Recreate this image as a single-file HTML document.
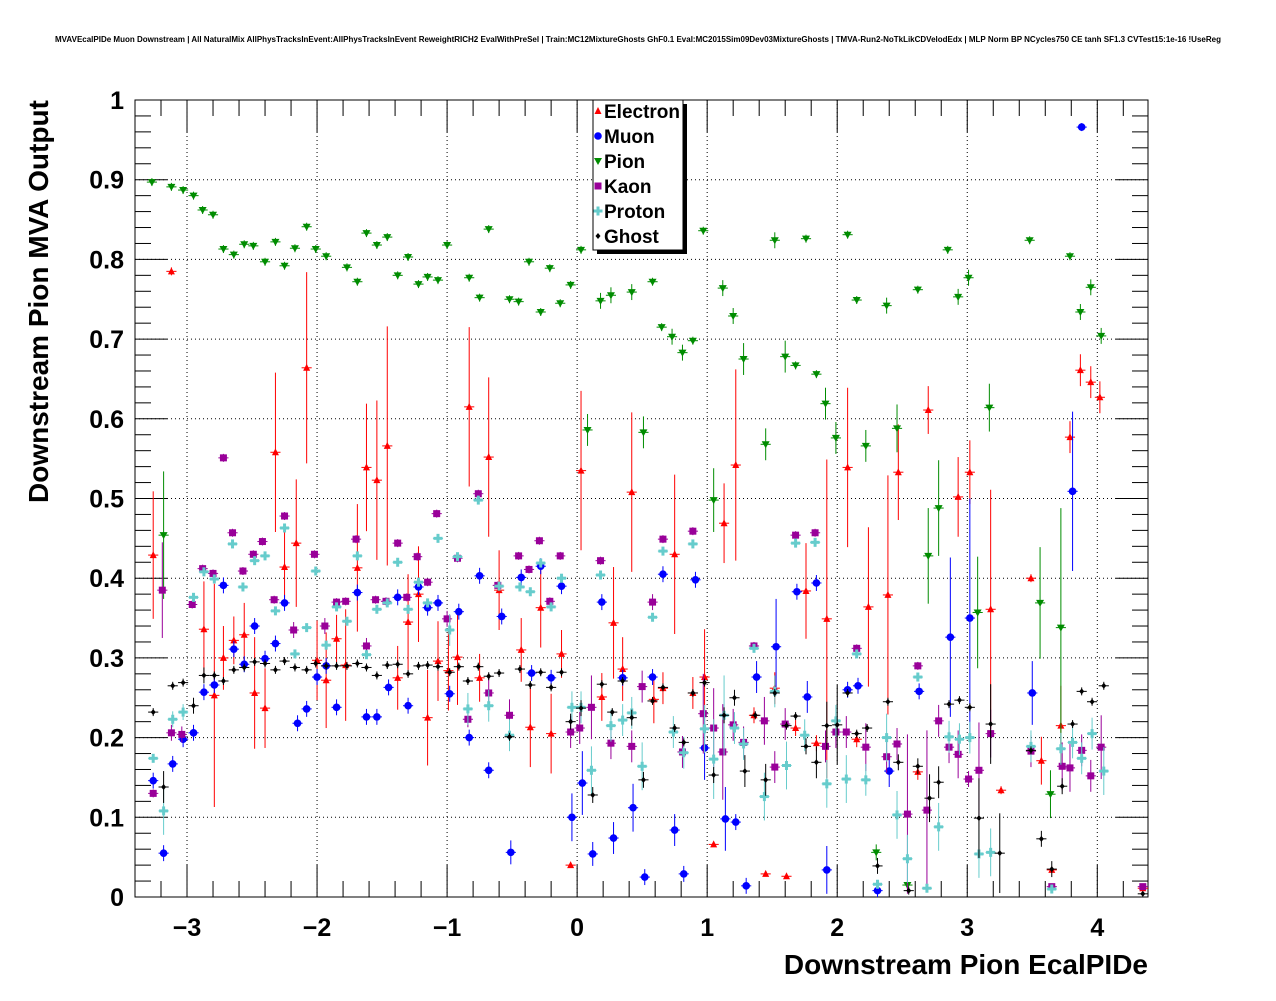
<!DOCTYPE html>
<html><head><meta charset="utf-8"><style>
html,body{margin:0;padding:0;background:#fff;}
svg text{font-family:"Liberation Sans",Arial,sans-serif;font-weight:bold;}
</style></head><body>
<svg id="chart" width="1276" height="996" xmlns="http://www.w3.org/2000/svg">
<rect x="0" y="0" width="1276" height="996" fill="#fff"/>
<text x="638" y="42" font-size="8" text-anchor="middle">MVAVEcalPIDe Muon Downstream | All NaturalMix AllPhysTracksInEvent:AllPhysTracksInEvent ReweightRICH2 EvalWithPreSel | Train:MC12MixtureGhosts GhF0.1 Eval:MC2015Sim09Dev03MixtureGhosts | TMVA-Run2-NoTkLikCDVelodEdx | MLP Norm BP NCycles750 CE tanh SF1.3 CVTest15:1e-16 !UseReg</text>
<g id="grid"></g>
<g id="axes"></g>
<g id="marks"></g>
<text transform="translate(48,503) rotate(-90)" font-size="28" text-anchor="start">Downstream Pion MVA Output</text>
<text x="1148" y="974" font-size="28" text-anchor="end">Downstream Pion EcalPIDe</text>
<g id="legend">
<rect x="597" y="104" width="90" height="150" fill="#000"/>
<rect x="593" y="100" width="90" height="150" fill="#fff" stroke="#000" stroke-width="1"/>
</g>
</svg>
<script>
const xMin=-3.4, xMax=4.39, yMin=0, yMax=1;
const L=135, R=1148, T=100, B=897;
const xTicks=[-3,-2,-1,0,1,2,3,4];
const xTickLabels=["\u22123","\u22122","\u22121","0","1","2","3","4"];
const yTicks=[0,0.1,0.2,0.3,0.4,0.5,0.6,0.7,0.8,0.9,1];
const yTickLabels=["0","0.1","0.2","0.3","0.4","0.5","0.6","0.7","0.8","0.9","1"];

const elecX=[-3.26,-3.12,-2.87,-2.79,-2.72,-2.64,-2.56,-2.48,-2.40,-2.32,-2.25,-2.16,-2.08,-2.00,-1.93,-1.85,-1.78,-1.69,-1.62,-1.54,-1.46,-1.38,-1.30,-1.22,-1.15,-1.07,-0.99,-0.92,-0.83,-0.75,-0.68,-0.60,-0.43,-0.36,-0.28,-0.20,-0.12,-0.05,0.03,0.19,0.28,0.35,0.42,0.59,0.66,0.75,0.89,0.98,1.05,1.13,1.22,1.36,1.45,1.52,1.61,1.68,1.76,1.84,1.92,2.08,2.15,2.24,2.39,2.47,2.62,2.70,2.93,3.02,3.18,3.26,3.49,3.57,3.65,3.72,3.79,3.87,3.95,4.02,4.35];
const elecY=[.429,.785,.336,.253,.30,.322,.329,.256,.237,.558,.414,.444,.664,.297,.272,.324,.291,.413,.539,.523,.566,.275,.345,.380,.225,.296,.284,.301,.615,.275,.552,.385,.310,.213,.363,.205,.305,.040,.535,.251,.344,.286,.508,.248,.262,.430,.256,.276,.066,.469,.542,.228,.029,.262,.026,.212,.384,.193,.349,.539,.198,.364,.379,.533,.157,.611,.502,.533,.361,.134,.400,.171,.034,.215,.577,.661,.646,.627,.011];
const elecErr=[.08,.005,.06,.14,.04,.03,.04,.07,.05,.1,.05,.08,.12,.05,.06,.03,.07,.08,.08,.1,.15,.04,.06,.06,.06,.05,.05,.06,.1,.03,.1,.05,.04,.05,.05,.05,.03,.003,.1,.03,.07,.04,.1,.03,.02,.1,.02,.06,.003,.05,.12,.01,.003,.02,.003,.01,.06,.01,.2,.1,.01,.1,.15,.06,.01,.03,.05,.04,.15,.005,.005,.03,.003,.05,.02,.02,.02,.02,.003];

const muonX=[-3.26,-3.18,-3.11,-3.03,-2.95,-2.87,-2.79,-2.72,-2.64,-2.56,-2.48,-2.40,-2.32,-2.25,-2.15,-2.08,-2.00,-1.93,-1.85,-1.69,-1.62,-1.54,-1.45,-1.38,-1.30,-1.22,-1.15,-1.07,-0.98,-0.91,-0.83,-0.75,-0.68,-0.58,-0.51,-0.43,-0.35,-0.28,-0.20,-0.12,-0.04,0.04,0.12,0.19,0.28,0.35,0.43,0.52,0.58,0.66,0.75,0.82,0.91,0.98,1.14,1.22,1.30,1.38,1.53,1.69,1.77,1.84,1.92,2.08,2.16,2.31,2.40,2.63,2.87,3.02,3.50,3.81,3.88];
const muonY=[.146,.055,.167,.198,.206,.257,.266,.391,.311,.292,.34,.299,.318,.369,.218,.236,.276,.290,.238,.382,.226,.226,.263,.376,.240,.389,.363,.369,.255,.358,.200,.403,.159,.352,.056,.401,.281,.415,.275,.390,.100,.143,.054,.370,.074,.275,.112,.025,.276,.405,.084,.029,.398,.187,.098,.094,.014,.276,.314,.383,.251,.394,.034,.260,.265,.008,.158,.258,.326,.350,.256,.509,.966];
const muonErr=[.01,.01,.01,.01,.01,.01,.01,.01,.01,.01,.01,.01,.01,.01,.01,.01,.01,.01,.01,.01,.01,.01,.01,.01,.01,.01,.01,.01,.01,.01,.01,.01,.01,.01,.015,.01,.01,.01,.01,.01,.03,.04,.015,.01,.02,.01,.03,.01,.01,.01,.02,.01,.01,.04,.04,.01,.01,.02,.06,.01,.02,.01,.03,.01,.01,.01,.02,.01,.1,.15,.04,.1,.005];

const pionX=[-3.27,-3.18,-3.12,-3.03,-2.95,-2.88,-2.80,-2.72,-2.64,-2.56,-2.49,-2.40,-2.32,-2.25,-2.17,-2.08,-2.01,-1.93,-1.77,-1.69,-1.62,-1.54,-1.46,-1.38,-1.30,-1.22,-1.15,-1.07,-1.00,-0.83,-0.75,-0.68,-0.52,-0.45,-0.37,-0.28,-0.21,-0.13,-0.05,0.03,0.08,0.18,0.26,0.42,0.51,0.58,0.65,0.73,0.81,0.89,0.97,1.05,1.12,1.20,1.28,1.45,1.52,1.60,1.68,1.76,1.84,1.91,1.99,2.08,2.15,2.22,2.30,2.38,2.46,2.54,2.62,2.70,2.78,2.85,2.93,3.01,3.08,3.17,3.48,3.56,3.64,3.72,3.79,3.87,3.95,4.03];
const pionY=[.897,.454,.891,.887,.880,.862,.856,.813,.806,.819,.817,.797,.822,.792,.814,.841,.813,.804,.790,.772,.833,.818,.828,.780,.803,.769,.778,.774,.818,.777,.752,.838,.750,.747,.797,.734,.789,.745,.768,.812,.586,.748,.755,.759,.583,.772,.715,.703,.683,.698,.836,.498,.764,.729,.675,.568,.824,.678,.667,.826,.656,.619,.576,.831,.749,.566,.056,.742,.588,.015,.762,.428,.488,.812,.753,.777,.357,.614,.824,.369,.129,.338,.804,.734,.765,.704];
const pionErr=[.005,.08,.005,.005,.005,.005,.005,.005,.005,.005,.005,.005,.005,.005,.005,.005,.005,.005,.005,.005,.005,.005,.005,.005,.005,.005,.005,.005,.005,.005,.005,.005,.005,.005,.005,.005,.005,.005,.005,.005,.02,.01,.01,.01,.02,.005,.005,.01,.01,.005,.005,.04,.01,.01,.02,.02,.01,.02,.005,.005,.005,.02,.02,.005,.005,.02,.01,.01,.03,.005,.005,.06,.06,.005,.01,.01,.07,.03,.005,.07,.03,.15,.005,.01,.01,.01];

const kaonX=[-3.26,-3.19,-3.12,-3.04,-2.96,-2.88,-2.80,-2.72,-2.65,-2.57,-2.49,-2.42,-2.33,-2.25,-2.18,-2.02,-1.94,-1.85,-1.78,-1.70,-1.62,-1.55,-1.47,-1.38,-1.31,-1.23,-1.15,-1.08,-1.00,-0.92,-0.84,-0.76,-0.68,-0.61,-0.52,-0.45,-0.37,-0.29,-0.21,-0.13,-0.05,0.02,0.11,0.18,0.26,0.42,0.50,0.58,0.66,0.81,0.89,0.97,1.05,1.12,1.20,1.28,1.36,1.44,1.52,1.60,1.68,1.83,1.91,1.99,2.07,2.15,2.22,2.38,2.46,2.54,2.62,2.69,2.78,2.86,2.93,3.01,3.09,3.18,3.49,3.65,3.73,3.79,3.88,3.95,4.03,4.35];
const kaonY=[.130,.385,.206,.204,.367,.412,.406,.551,.457,.409,.430,.446,.373,.478,.335,.430,.340,.370,.371,.449,.315,.373,.371,.444,.376,.427,.395,.481,.349,.425,.223,.506,.256,.391,.228,.428,.411,.447,.371,.428,.207,.212,.238,.422,.193,.189,.264,.370,.449,.182,.459,.230,.212,.182,.216,.194,.315,.221,.163,.217,.454,.457,.189,.207,.207,.312,.188,.176,.192,.104,.290,.109,.221,.188,.179,.148,.159,.205,.183,.013,.164,.162,.184,.152,.188,.013];
const kaonErr=[.005,.06,.01,.01,.005,.005,.005,.005,.005,.005,.005,.005,.005,.005,.01,.005,.01,.005,.005,.005,.01,.005,.005,.005,.005,.005,.005,.005,.01,.005,.01,.005,.02,.005,.02,.005,.005,.005,.005,.005,.02,.02,.04,.005,.02,.02,.02,.01,.005,.02,.005,.05,.05,.06,.02,.02,.005,.03,.02,.02,.005,.005,.02,.02,.02,.005,.03,.02,.02,.1,.005,.1,.02,.02,.03,.01,.06,.03,.02,.003,.03,.03,.02,.02,.04,.003];

const protX=[-3.26,-3.18,-3.11,-3.03,-2.95,-2.87,-2.79,-2.65,-2.57,-2.48,-2.40,-2.32,-2.25,-2.17,-2.08,-2.01,-1.93,-1.85,-1.77,-1.69,-1.62,-1.54,-1.46,-1.38,-1.30,-1.22,-1.15,-1.07,-0.98,-0.92,-0.84,-0.76,-0.68,-0.60,-0.52,-0.44,-0.36,-0.28,-0.20,-0.12,-0.04,0.03,0.11,0.18,0.26,0.35,0.42,0.50,0.58,0.66,0.74,0.82,0.89,0.98,1.05,1.13,1.21,1.28,1.36,1.44,1.52,1.61,1.68,1.75,1.83,1.92,1.99,2.07,2.15,2.22,2.31,2.38,2.46,2.54,2.62,2.69,2.78,2.86,2.94,3.02,3.09,3.18,3.49,3.65,3.72,3.81,3.88,3.96,4.05];
const protY=[.174,.108,.223,.232,.376,.408,.399,.443,.389,.422,.428,.359,.463,.305,.338,.409,.316,.364,.346,.428,.304,.361,.369,.420,.361,.395,.369,.450,.335,.427,.236,.498,.240,.390,.203,.389,.383,.419,.364,.400,.238,.238,.159,.404,.215,.222,.231,.164,.351,.434,.207,.181,.443,.211,.173,.228,.212,.192,.312,.126,.258,.165,.444,.203,.445,.142,.221,.148,.305,.147,.016,.200,.103,.048,.276,.011,.088,.201,.198,.200,.054,.056,.189,.010,.186,.194,.174,.205,.158];
const protErr=[.005,.03,.01,.01,.005,.005,.005,.005,.005,.005,.005,.005,.005,.005,.005,.005,.005,.005,.005,.005,.005,.005,.005,.005,.005,.005,.005,.005,.02,.005,.02,.005,.02,.005,.02,.005,.005,.005,.005,.005,.02,.02,.03,.005,.02,.02,.02,.03,.005,.005,.02,.02,.005,.03,.05,.05,.02,.02,.005,.03,.02,.03,.005,.02,.005,.03,.02,.03,.005,.02,.005,.03,.03,.03,.005,.003,.03,.02,.02,.02,.03,.03,.02,.003,.02,.02,.02,.02,.03];

const ghostX=[-3.26,-3.18,-3.11,-3.03,-2.95,-2.87,-2.79,-2.72,-2.64,-2.56,-2.48,-2.40,-2.32,-2.25,-2.17,-2.08,-2.01,-1.93,-1.85,-1.77,-1.69,-1.62,-1.54,-1.46,-1.38,-1.30,-1.22,-1.15,-1.07,-0.98,-0.91,-0.84,-0.76,-0.68,-0.60,-0.52,-0.44,-0.36,-0.28,-0.20,-0.12,-0.05,0.03,0.12,0.19,0.27,0.35,0.42,0.51,0.58,0.66,0.75,0.82,0.89,0.98,1.05,1.13,1.21,1.29,1.37,1.45,1.52,1.61,1.68,1.76,1.84,1.92,2.00,2.08,2.15,2.23,2.31,2.39,2.47,2.55,2.62,2.71,2.78,2.86,2.94,3.02,3.09,3.18,3.25,3.49,3.57,3.65,3.73,3.81,3.88,3.96,4.05,4.35];
const ghostY=[.232,.138,.265,.269,.240,.278,.278,.271,.285,.288,.295,.293,.285,.296,.288,.285,.293,.290,.290,.290,.293,.288,.278,.291,.292,.280,.290,.291,.289,.282,.289,.271,.289,.277,.281,.201,.286,.266,.282,.263,.282,.220,.237,.128,.267,.232,.271,.225,.147,.246,.263,.212,.194,.256,.269,.153,.228,.250,.158,.228,.147,.256,.215,.227,.189,.169,.215,.216,.256,.205,.212,.039,.245,.169,.008,.164,.124,.144,.242,.247,.238,.099,.217,.055,.184,.073,.035,.139,.217,.258,.245,.265,.004];
const ghostErr=[.005,.02,.005,.005,.01,.01,.005,.005,.005,.005,.005,.005,.005,.005,.005,.005,.005,.005,.005,.005,.005,.005,.005,.005,.005,.005,.005,.005,.005,.005,.005,.005,.005,.005,.005,.005,.005,.005,.005,.005,.005,.01,.01,.01,.005,.005,.005,.01,.01,.005,.005,.005,.005,.005,.005,.01,.01,.01,.02,.005,.02,.005,.005,.005,.01,.02,.03,.05,.005,.005,.005,.01,.005,.01,.005,.01,.03,.02,.005,.005,.005,.05,.05,.05,.005,.01,.01,.01,.005,.005,.005,.005,.003];

const NS="http://www.w3.org/2000/svg";
function sx(v){return L+(v-xMin)/(xMax-xMin)*(R-L);}
function sy(v){return B-(v-yMin)/(yMax-yMin)*(B-T);}
function mk(tag,attrs,parent){const e=document.createElementNS(NS,tag);for(const k in attrs)e.setAttribute(k,attrs[k]);parent.appendChild(e);return e;}
const grid=document.getElementById('grid'),axes=document.getElementById('axes'),marks=document.getElementById('marks'),legend=document.getElementById('legend');

xTicks.forEach((t,i)=>{
  const gl=mk('line',{x1:sx(t),x2:sx(t),y1:T,y2:B,stroke:'#000','stroke-width':1,'stroke-dasharray':'1,3'},grid);
  
  
  const lb=mk('text',{x:sx(t),y:936,'font-size':25,'text-anchor':'middle'},axes);
  lb.textContent=xTickLabels[i];
  
  
});
yTicks.forEach((t,i)=>{
  if(t>0&&t<1){const gl=mk('line',{x1:L,x2:R,y1:sy(t),y2:sy(t),stroke:'#000','stroke-width':1,'stroke-dasharray':'1,3'},grid);
  
  }
  const lb=mk('text',{x:124,y:sy(t)+9,'font-size':25,'text-anchor':'end'},axes);
  lb.textContent=yTickLabels[i];
  
  
});
for(let v=-3.4;v<=4.39;v+=0.2){const x=sx(Math.round(v*10)/10);const maj=Math.abs(Math.round(v*10)/10-Math.round(v))<1e-6;const h=maj?32:16;
  mk('line',{x1:x,x2:x,y1:B,y2:B-h,stroke:'#000'},axes);mk('line',{x1:x,x2:x,y1:T,y2:T+h,stroke:'#000'},axes);}
for(let k=0;k<=50;k++){const v=k*0.02;const y=sy(v);const w=(k%5===0)?32:16;
  mk('line',{x1:L,x2:L+w,y1:y,y2:y,stroke:'#000'},axes);mk('line',{x1:R,x2:R-w,y1:y,y2:y,stroke:'#000'},axes);}
const fr=mk('rect',{x:L,y:T,width:R-L,height:B-T,fill:'none',stroke:'#000','stroke-width':1},axes);



function marker(g,type,x,y,col){
  if(type==='tu')mk('polygon',{points:`${x},${y-4} ${x-3.5},${y+3} ${x+3.5},${y+3}`,fill:col},g);
  else if(type==='td')mk('polygon',{points:`${x},${y+4} ${x-4},${y-3} ${x+4},${y-3}`,fill:col},g);
  else if(type==='c')mk('circle',{cx:x,cy:y,r:3.8,fill:col},g);
  else if(type==='s')mk('rect',{x:x-3.5,y:y-3.5,width:7,height:7,fill:col},g);
  else if(type==='p'){mk('rect',{x:x-4.5,y:y-1.5,width:9,height:3,fill:col},g);mk('rect',{x:x-1.5,y:y-4.5,width:3,height:9,fill:col},g);}
  else if(type==='d')mk('polygon',{points:`${x},${y-3} ${x+2.5},${y} ${x},${y+3} ${x-2.5},${y}`,fill:col},g);
}
const series=[
 {name:'electron',xs:elecX,ys:elecY,es:elecErr,col:'#ff0000',t:'tu'},
 {name:'muon',xs:muonX,ys:muonY,es:muonErr,col:'#0000ff',t:'c'},
 {name:'pion',xs:pionX,ys:pionY,es:pionErr,col:'#008c00',t:'td'},
 {name:'kaon',xs:kaonX,ys:kaonY,es:kaonErr,col:'#990099',t:'s'},
 {name:'proton',xs:protX,ys:protY,es:protErr,col:'#66cccc',t:'p'},
 {name:'ghost',xs:ghostX,ys:ghostY,es:ghostErr,col:'#000000',t:'d'}];
const hw=(R-L)/(xMax-xMin)*0.039;
series.forEach(s=>{
  const g=mk('g',{},marks);
  
  
  s.xs.forEach((xv,i)=>{
    const x=sx(xv),y=sy(s.ys[i]),e=s.es[i]||0.005;
    mk('line',{x1:x-hw,x2:x+hw,y1:y,y2:y,stroke:s.col,'stroke-width':1},g);
    mk('line',{x1:x,x2:x,y1:sy(Math.min(1,s.ys[i]+e)),y2:sy(Math.max(0,s.ys[i]-e)),stroke:s.col,'stroke-width':1},g);
    marker(g,s.t,x,y,s.col);
  });
});
const legNames=['Electron','Muon','Pion','Kaon','Proton','Ghost'];
series.forEach((s,i)=>{
  const y=111+i*25;
  const g=mk('g',{},legend);
  
  
  marker(g,s.t,598,y,s.col);
  const t=mk('text',{x:604,y:y+7,'font-size':19},g);
  t.textContent=legNames[i];
});
</script>
</body></html>
